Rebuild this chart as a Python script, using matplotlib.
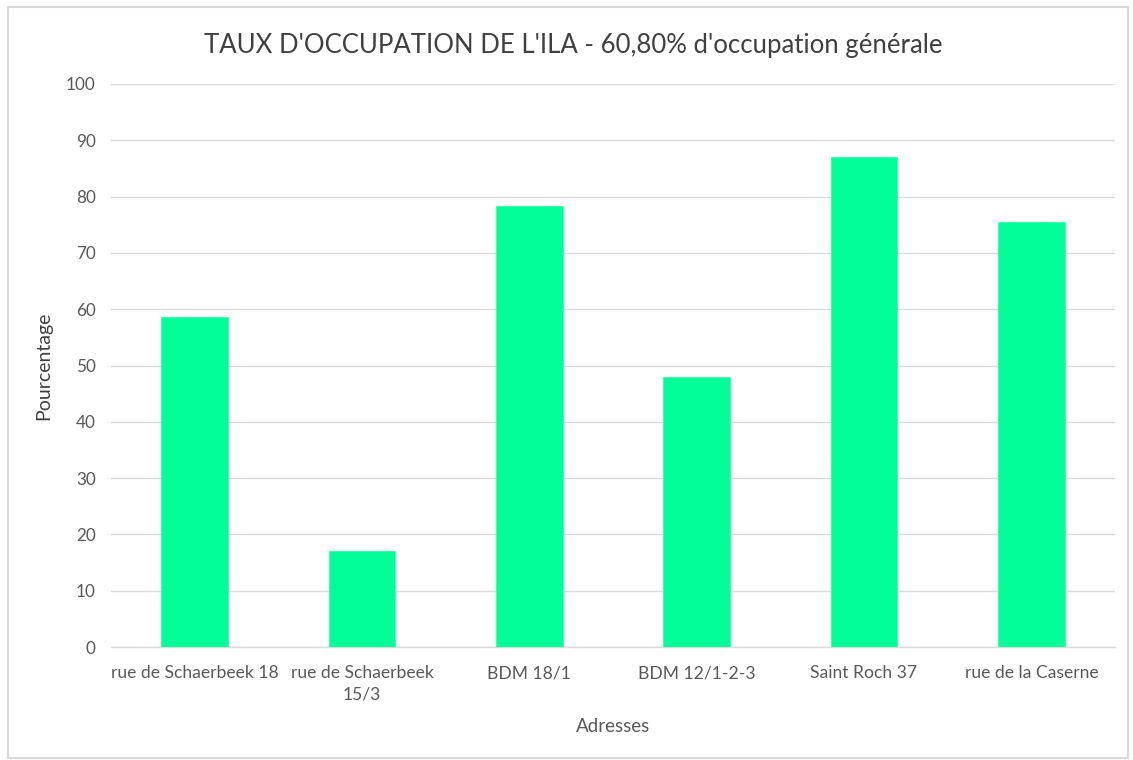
import matplotlib
matplotlib.use("Agg")
import matplotlib.pyplot as plt
from matplotlib.patches import Rectangle

categories = ["rue de Schaerbeek 18", "rue de Schaerbeek\n15/3", "BDM 18/1",
              "BDM 12/1-2-3", "Saint Roch 37", "rue de la Caserne"]
values = [58.7, 17.0, 78.4, 47.9, 87.0, 75.4]
yticks = [0, 10, 20, 30, 40, 50, 60, 70, 80, 90, 100]

plt.rcParams['font.family'] = ['Lato', 'DejaVu Sans']

fig = plt.figure(figsize=(11.33, 7.60), dpi=100)
fig.patches.append(Rectangle((8/1133, 2/760), 1120/1133, 751/760, transform=fig.transFigure,
                             fill=False, edgecolor='#d9d9d9', linewidth=1.5))
ax = fig.add_axes([111/1133, 1-647/760, 1004/1133, (647-84)/760])

x = list(range(len(categories)))
ax.bar(x, values, width=0.40, color='#00ff99', edgecolor='#33ffaa', linewidth=0.6, zorder=3)
ax.set_xlim(-0.5, len(categories)-0.5)
ax.set_ylim(0, 100)
ax.set_yticks(yticks)
ax.set_xticks(x)
ax.set_xticklabels(categories, fontsize=12.6, color='#595959', linespacing=1.45)
ax.tick_params(axis='y', labelsize=12.3, labelcolor='#595959', length=0, pad=11)
ax.tick_params(axis='x', length=0, pad=13)
ax.grid(axis='y', color='#d9d9d9', linewidth=1.0, zorder=0)
for s in ['top', 'right', 'left']:
    ax.spines[s].set_visible(False)
ax.spines['bottom'].set_color('#d9d9d9')
ax.spines['bottom'].set_linewidth(1.0)

ax.set_ylabel("Pourcentage", fontsize=14, color='#404040', labelpad=10)
ax.set_xlabel("Adresses", fontsize=13.5, color='#595959', labelpad=11)
fig.text(573/1133, 1-45/760, "TAUX D'OCCUPATION DE L'ILA - 60,80% d'occupation générale",
         ha='center', va='center', fontsize=18.5, color='#404040')

fig.savefig("out.png", dpi=100, facecolor='white')
